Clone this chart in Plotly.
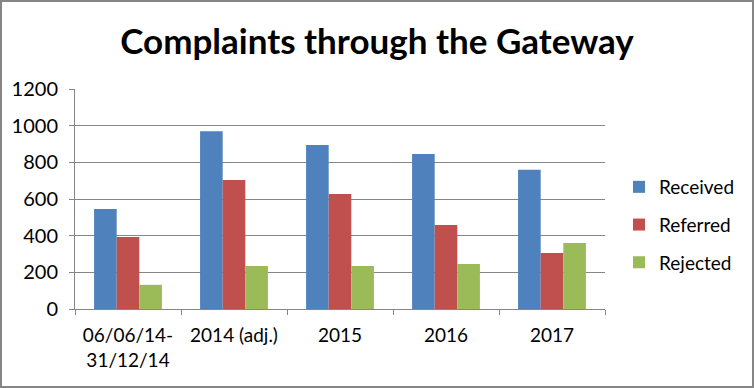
import plotly.graph_objects as go

categories = ["06/06/14-<br>31/12/14", "2014 (adj.)", "2015", "2016", "2017"]
received = [545, 970, 895, 845, 760]
referred = [393, 703, 627, 458, 305]
rejected = [132, 235, 235, 245, 360]
y_ticks = [0, 200, 400, 600, 800, 1000, 1200]

W, H = 754, 388
L, R, T, B = 75, 149, 89, 79
pw, ph = W - L - R, H - T - B

fig = go.Figure()
series = [("Received", received, "#4F81BD"), ("Referred", referred, "#C0504D"), ("Rejected", rejected, "#9BBB59")]
for name, vals, col in series:
    fig.add_trace(go.Bar(x=categories, y=vals, name=name, marker_color=col,
                         marker_line_width=0, legendgroup=name))

font_fam = "Lato, 'Open Sans', sans-serif"
fig.update_layout(
    width=W, height=H,
    margin=dict(l=L, r=R, t=T, b=B),
    paper_bgcolor="white", plot_bgcolor="white",
    barmode="group", bargap=0.36, bargroupgap=0,
    title=dict(text="<b>Complaints through the Gateway</b>", x=0.5, xanchor="center",
               y=1 - 42 / H, yanchor="middle",
               font=dict(family=font_fam, size=35, color="black")),
    font=dict(family=font_fam, size=19, color="black"),
    legend=dict(x=1 + (619 - 605) / pw, xanchor="left", y=1 - (225 - 89) / ph, yanchor="middle",
                font=dict(size=19, color="black"), tracegroupgap=10,
                itemwidth=30, bgcolor="rgba(0,0,0,0)"),
    xaxis=dict(showline=True, linecolor="#868686", linewidth=1, ticks="outside",
               tickson="boundaries", ticklen=5, tickcolor="#868686",
               showgrid=False, tickfont=dict(size=19), ticklabelstandoff=9),
    yaxis=dict(range=[0, 1200], tickvals=y_ticks, showline=True, linecolor="#868686",
               linewidth=1, ticks="outside", ticklen=5, tickcolor="#868686",
               showgrid=True, gridcolor="#868686", gridwidth=1, zeroline=False,
               tickfont=dict(size=20), ticklabelstandoff=7),
    shapes=[dict(type="rect", xref="paper", yref="paper",
                 x0=-(L - 1) / pw, x1=1 + (R - 1) / pw, y0=-(B - 1) / ph, y1=1 + (T - 1) / ph,
                 line=dict(color="#868686", width=2), fillcolor="rgba(0,0,0,0)")],
)

fig.write_html("out.html", config={"displayModeBar": False},
               post_script="document.body.style.margin='0px';")
